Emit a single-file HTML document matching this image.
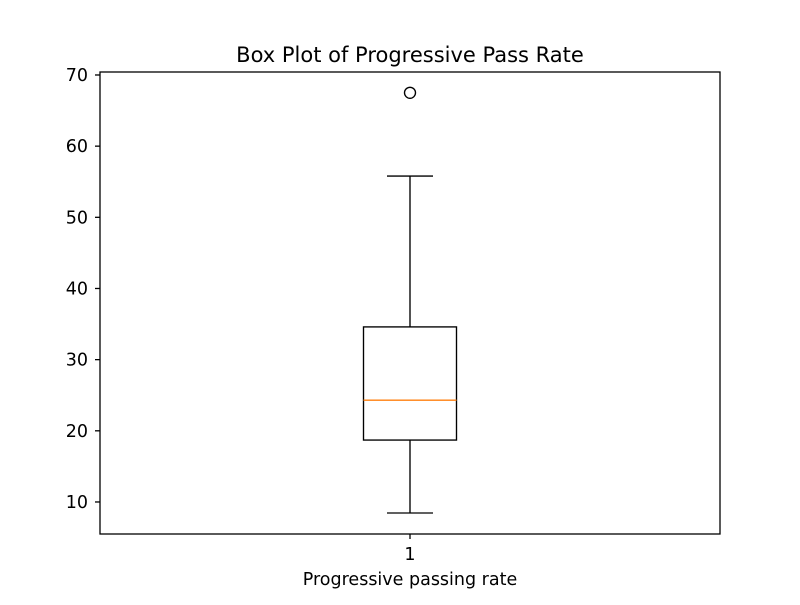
<!DOCTYPE html>
<html><head><meta charset="utf-8"><style>
body{margin:0;background:#fff}
text{font-family:"DejaVu Sans","Liberation Sans",sans-serif;fill:#000}
</style></head><body>
<svg id="chart" width="800" height="600" xmlns="http://www.w3.org/2000/svg">
<rect width="800" height="600" fill="#fff"/>
<text x="410" y="62" font-size="21" text-anchor="middle">Box Plot of Progressive Pass Rate</text>
<g id="yaxis"></g>
<g id="marks"></g>
<rect x="100" y="72" width="620" height="462" fill="none" stroke="#000" stroke-width="1.3"/>
<line x1="410" y1="534" x2="410" y2="539" stroke="#000" stroke-width="1.3"/>
<text x="410" y="560" font-size="17.5" text-anchor="middle">1</text>
<text x="410" y="585" font-size="17.5" text-anchor="middle">Progressive passing rate</text>
</svg>
<script>
const yTicks=[10,20,30,40,50,60,70];
const stats={low:8.45,q1:18.7,median:24.3,q3:34.6,high:55.8};
const outliers=[67.5];
const yMin=5.5,yMax=70.42,plotTop=72,plotBottom=534;
const ns="http://www.w3.org/2000/svg";
function y(v){return plotBottom-(v-yMin)/(yMax-yMin)*(plotBottom-plotTop);}
function mk(tag,attrs,parent){const e=document.createElementNS(ns,tag);for(const k in attrs)e.setAttribute(k,attrs[k]);parent.appendChild(e);return e;}
const ya=document.getElementById('yaxis');
yTicks.forEach(t=>{
 const l=mk('line',{x1:95,x2:100,y1:y(t),y2:y(t),stroke:'#000','stroke-width':1.3},ya);
 
 
 const tx=mk('text',{x:88,y:y(t)+6,'font-size':17.5,'text-anchor':'end'},ya);
 tx.textContent=t;
 
 
});
const g=document.getElementById('marks');
const cx=410,bw=93,cw=46,sw=1.35;
const parts=[
 ['line',{x1:cx,x2:cx,y1:y(stats.q1),y2:y(stats.low),stroke:'#000','stroke-width':sw},'lower-whisker'],
 ['line',{x1:cx,x2:cx,y1:y(stats.q3),y2:y(stats.high),stroke:'#000','stroke-width':sw},'upper-whisker'],
 ['line',{x1:cx-cw/2,x2:cx+cw/2,y1:y(stats.low),y2:y(stats.low),stroke:'#000','stroke-width':sw},'lower-cap'],
 ['line',{x1:cx-cw/2,x2:cx+cw/2,y1:y(stats.high),y2:y(stats.high),stroke:'#000','stroke-width':sw},'upper-cap'],
 ['rect',{x:cx-bw/2,y:y(stats.q3),width:bw,height:y(stats.q1)-y(stats.q3),fill:'none',stroke:'#000','stroke-width':sw},'box'],
 ['line',{x1:cx-bw/2,x2:cx+bw/2,y1:y(stats.median),y2:y(stats.median),stroke:'#ff7f0e','stroke-width':sw},'median-line']
];
parts.forEach(p=>{const e=mk(p[0],p[1],g);
 
 });
outliers.forEach(o=>{const c=mk('circle',{cx:cx,cy:y(o),r:5.5,fill:'none',stroke:'#000','stroke-width':sw},g);
 
 });
</script>
</body></html>
